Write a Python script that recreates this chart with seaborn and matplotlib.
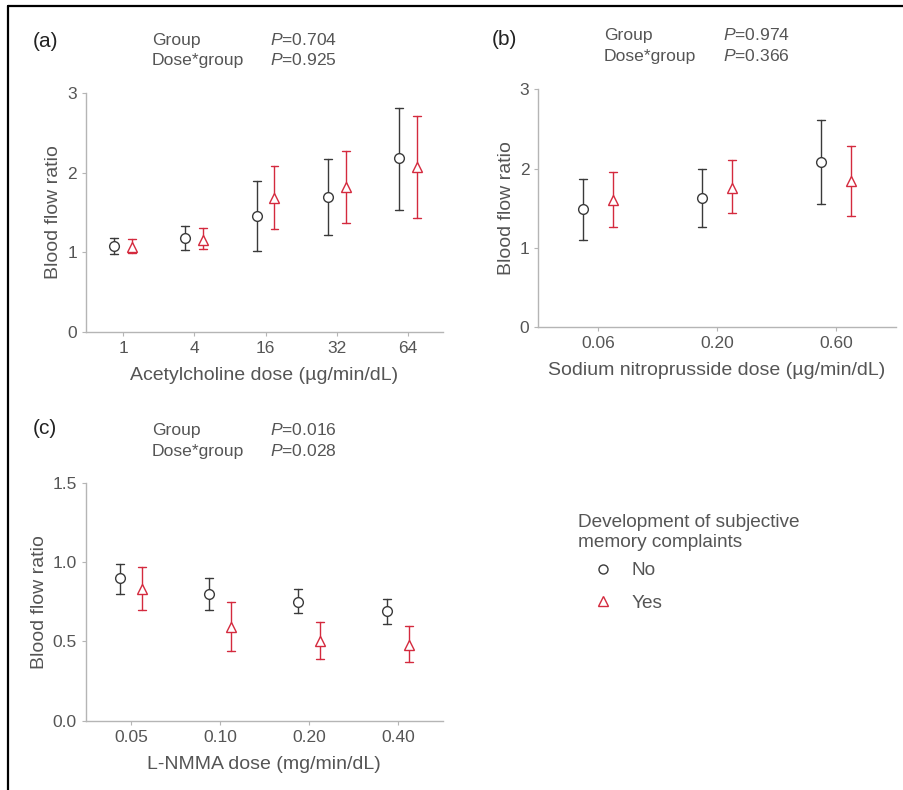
import numpy as np
import pandas as pd
import matplotlib
matplotlib.use("Agg")
import matplotlib.pyplot as plt
from matplotlib.lines import Line2D
import seaborn as sns

# ---------------- data ----------------
groups = ["No", "Yes"]

ach_doses = ["1", "4", "16", "32", "64"]
ach_no_mean = [1.08, 1.18, 1.46, 1.70, 2.18]
ach_no_lo = [0.98, 1.03, 1.02, 1.22, 1.53]
ach_no_hi = [1.18, 1.33, 1.90, 2.17, 2.82]
ach_yes_mean = [1.07, 1.16, 1.68, 1.82, 2.07]
ach_yes_lo = [0.99, 1.04, 1.29, 1.37, 1.43]
ach_yes_hi = [1.17, 1.31, 2.09, 2.27, 2.72]

snp_doses = ["0.06", "0.20", "0.60"]
snp_no_mean = [1.49, 1.63, 2.08]
snp_no_lo = [1.10, 1.26, 1.56]
snp_no_hi = [1.87, 2.00, 2.61]
snp_yes_mean = [1.61, 1.76, 1.84]
snp_yes_lo = [1.26, 1.44, 1.40]
snp_yes_hi = [1.96, 2.11, 2.28]

lnmma_doses = ["0.05", "0.10", "0.20", "0.40"]
lnmma_no_mean = [0.90, 0.80, 0.75, 0.69]
lnmma_no_lo = [0.80, 0.70, 0.68, 0.61]
lnmma_no_hi = [0.99, 0.90, 0.83, 0.77]
lnmma_yes_mean = [0.83, 0.59, 0.50, 0.48]
lnmma_yes_lo = [0.70, 0.44, 0.39, 0.37]
lnmma_yes_hi = [0.97, 0.75, 0.62, 0.60]

stats_a = ["0.704", "0.925"]
stats_b = ["0.974", "0.366"]
stats_c = ["0.016", "0.028"]

# ---------------- style ----------------
sns.set_theme(style="white")
plt.rcParams["font.family"] = ["Liberation Sans", "DejaVu Sans"]
plt.rcParams["mathtext.fontset"] = "custom"
plt.rcParams["mathtext.rm"] = "Liberation Sans"
plt.rcParams["mathtext.it"] = "Liberation Sans:italic"

TXT = "#555555"
SPINE = "#b5b5b5"
BLACK = "#3a3a3a"
RED = "#d42a3e"
W, H = 904, 790
LABEL_FS = 14
TICK_FS = 12.5
STAT_FS = 12.6


def long_frame(doses, series):
    rows = []
    for g, (mean, lo, hi) in series.items():
        for d, m, l, h in zip(doses, mean, lo, hi):
            for v in (l, m, h):
                rows.append({"dose": d, "group": g, "ratio": v})
    return pd.DataFrame(rows)


fig = plt.figure(figsize=(W / 100, H / 100), dpi=100)


def px_axes(left, top, right, bottom):
    return fig.add_axes([left / W, 1 - bottom / H, (right - left) / W, (bottom - top) / H])


def panel(ax, doses, series, xlabel, ylim, yticks, yticklabels, capsize, xlim):
    df = long_frame(doses, series)
    sns.pointplot(
        data=df, x="dose", y="ratio", hue="group", hue_order=groups, order=doses,
        estimator=np.median, errorbar=lambda v: (v.min(), v.max()),
        palette=[BLACK, RED], markers=["o", "^"], linestyle="none",
        dodge=0.25, capsize=capsize, err_kws={"linewidth": 1.0},
        markersize=7, markeredgewidth=1.0, ax=ax, legend=False,
    )
    for ln in ax.lines:
        if ln.get_marker() not in (None, "None", "", " "):
            ln.set_markerfacecolor("white")
            ln.set_zorder(4)
    ax.set_ylim(*ylim)
    ax.set_xlim(*xlim)
    ax.set_yticks(yticks)
    ax.set_yticklabels(yticklabels)
    ax.set_xlabel(xlabel, fontsize=LABEL_FS, color=TXT, labelpad=8)
    ax.set_ylabel("Blood flow ratio", fontsize=LABEL_FS, color=TXT, labelpad=3.5)
    for s in ["top", "right"]:
        ax.spines[s].set_visible(False)
    for s in ["left", "bottom"]:
        ax.spines[s].set_color(SPINE)
        ax.spines[s].set_linewidth(1.0)
    ax.tick_params(axis="both", which="both", direction="out", length=3, width=0.8,
                   color=SPINE, labelsize=TICK_FS, labelcolor=TXT, pad=3.5,
                   left=True, bottom=True)


def stats_text(xg, xp, y1, y2, vals):
    kw = dict(fontsize=STAT_FS, color=TXT, va="baseline")
    fig.text(xg / W, 1 - y1 / H, "Group", **kw)
    fig.text(xg / W, 1 - y2 / H, "Dose*group", **kw)
    fig.text(xp / W, 1 - y1 / H, r"$\it{P}$=" + vals[0], **kw)
    fig.text(xp / W, 1 - y2 / H, r"$\it{P}$=" + vals[1], **kw)


PANEL_KW = dict(fontsize=15, color="#222222", va="baseline")

# (a)
ax_a = px_axes(86, 93.3, 443, 331.7)
panel(ax_a, ach_doses,
      {"No": (ach_no_mean, ach_no_lo, ach_no_hi), "Yes": (ach_yes_mean, ach_yes_lo, ach_yes_hi)},
      "Acetylcholine dose (\u00b5g/min/dL)", (0, 3), [0, 1, 2, 3], ["0", "1", "2", "3"],
      0.11, (-0.52, 4.49))
fig.text(33 / W, 1 - 47 / H, "(a)", **PANEL_KW)
stats_text(152, 270, 45, 65, stats_a)

# (b)
ax_b = px_axes(538.3, 89.3, 895.7, 327.3)
panel(ax_b, snp_doses,
      {"No": (snp_no_mean, snp_no_lo, snp_no_hi), "Yes": (snp_yes_mean, snp_yes_lo, snp_yes_hi)},
      "Sodium nitroprusside dose (\u00b5g/min/dL)", (0, 3), [0, 1, 2, 3], ["0", "1", "2", "3"],
      0.067, (-0.5, 2.5))
fig.text(492 / W, 1 - 45 / H, "(b)", **PANEL_KW)
stats_text(604, 723, 40, 61, stats_b)

# (c)
ax_c = px_axes(86, 483, 442.7, 720.7)
panel(ax_c, lnmma_doses,
      {"No": (lnmma_no_mean, lnmma_no_lo, lnmma_no_hi), "Yes": (lnmma_yes_mean, lnmma_yes_lo, lnmma_yes_hi)},
      "L-NMMA dose (mg/min/dL)", (0, 1.5), [0, 0.5, 1.0, 1.5], ["0.0", "0.5", "1.0", "1.5"],
      0.09, (-0.51, 3.5))
fig.text(33 / W, 1 - 434 / H, "(c)", **PANEL_KW)
stats_text(152, 270, 435, 456, stats_c)

# legend
fig.text(578 / W, 1 - 547 / H, "Development of subjective\nmemory complaints",
         fontsize=13.7, color=TXT, va="baseline", linespacing=1.25)
handles = [
    Line2D([], [], marker="o", linestyle="none", markerfacecolor="white",
           markeredgecolor=BLACK, markersize=6.5, markeredgewidth=1.0),
    Line2D([], [], marker="^", linestyle="none", markerfacecolor="white",
           markeredgecolor=RED, markersize=6.5, markeredgewidth=1.0),
]
leg = fig.legend(handles, groups, loc="upper left", bbox_to_anchor=(593 / W, 1 - 562 / H),
                 frameon=False, fontsize=13.7, handlelength=1.0, handletextpad=1.0,
                 labelspacing=0.8, borderpad=0, borderaxespad=0)
for t in leg.get_texts():
    t.set_color(TXT)

# frame lines (top and left)
fig.add_artist(Line2D([8 / W, 1], [1 - 6 / H, 1 - 6 / H], transform=fig.transFigure,
                      color="black", linewidth=1.6))
fig.add_artist(Line2D([8 / W, 8 / W], [1 - 6 / H, 0], transform=fig.transFigure,
                      color="black", linewidth=1.6))

fig.savefig("out.png", dpi=100)
